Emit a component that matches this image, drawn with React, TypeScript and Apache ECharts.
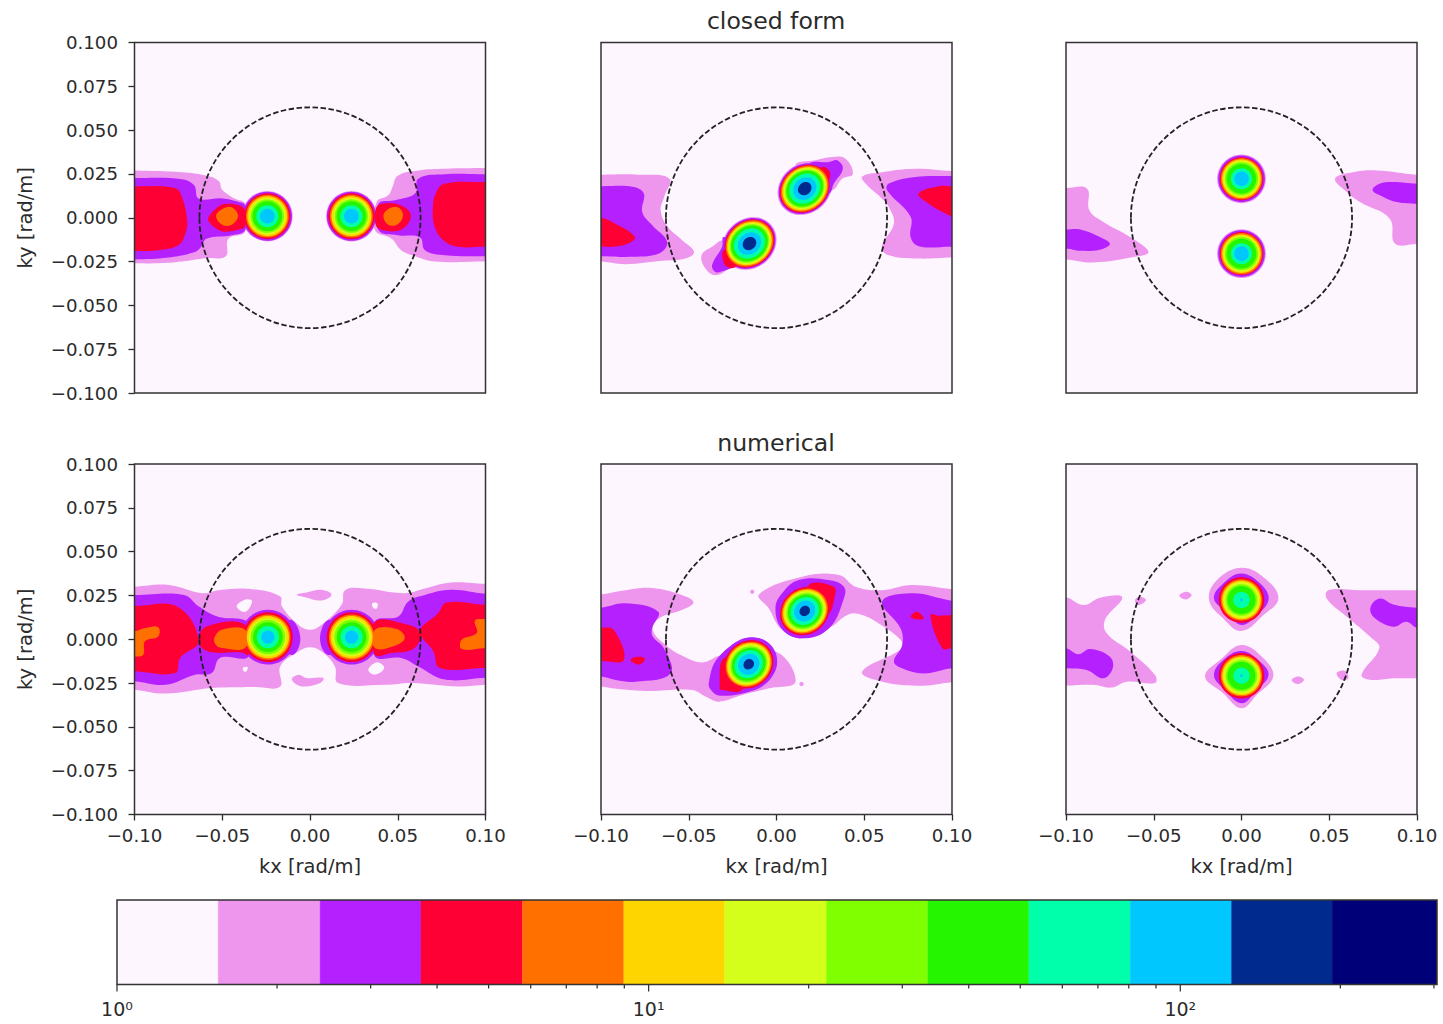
import React, { useEffect, useRef } from "react";
import * as echarts from "echarts";

// All contour coordinates are in milli-rad/m.
type Pt = [number, number];
type Region = [number, Pt[]];
type Blob = { c: Pt; tilt: number; stretch: number; radii: number[] };

const levelValues = [1, 1.55, 2.41, 3.73, 5.79, 8.98, 13.9, 21.6, 33.5, 51.9, 80.5, 124.8, 193, 304];
const levelColors = ["#fef6fe", "#ee95ee", "#b520ff", "#ff0035", "#ff7000", "#ffd500", "#d4ff1a", "#80ff00", "#26f500", "#00ffaa", "#00c8ff", "#002a8e", "#000078"];
const minorTicks = [2, 3, 4, 5, 6, 7, 8, 9, 20, 30, 40, 50, 60, 70, 80, 90, 200, 300];
const majorTicks = [1, 10, 100];
const circleRadius = 63;
const titles = ["closed form", "numerical"];

const closedA: Region[] = [
  [1, [[-100, 27], [-73, 26], [-59, 24], [-52, 21], [-50, 16], [-43, 11], [-37, 8], [-37, -8], [-46.5, -12], [-48, -22], [-59, -23], [-73, -25], [-86.5, -26], [-100, -26]]],
  [1, [[100, 28.4], [77, 28], [61.7, 27], [50, 24], [47, 17.6], [44.6, 12.8], [38, 9], [37, -7], [46.5, -12], [52, -18.5], [60, -22], [71, -25], [100, -25]]],
  [2, [[-100, 22.7], [-73, 22], [-66, 18.5], [-63.5, 11], [-50, 11], [-40.5, 9], [-37, 7], [-37, -7], [-44.6, -10], [-59, -12], [-62, -16.6], [-65.5, -19.5], [-80.7, -22.7], [-100, -23.8]]],
  [2, [[100, 24.8], [77, 24.8], [61.7, 22.3], [60, 14], [48.4, 10], [39, 8], [39, -7], [50, -10], [62.7, -11.3], [65.5, -18.5], [77, -21.4], [100, -22]]],
  [3, [[-100, 18], [-77, 17], [-73, 12], [-70, -1.4], [-71, -9], [-75, -15.7], [-86.5, -18.5], [-100, -19]]],
  [3, [[-58, 0], [-52, 6.5], [-48, 8], [-40, 7], [-37, 4], [-37, -5], [-40, -6.5], [-48, -8], [-52, -7], [-57, -3]]],
  [3, [[100, 20.4], [77, 19.5], [72, 14.7], [70, 6], [71, -5], [76, -12.8], [84.5, -16.6], [100, -16.6]]],
  [3, [[57.5, 1], [52, 7], [41, 8], [37.4, 5], [37.4, -4], [41, -7], [52, -6.7]]],
  [4, [[-53.5, 1], [-50, 5], [-44.6, 6], [-41, 1], [-44.6, -4], [-50, -4]]],
  [4, [[41.8, 1], [44.6, 5], [50, 6], [53, 1.4], [50, -3.7], [44.6, -4]]],
];
const closedARadii = [14.4, 14, 13.1, 12.2, 11.4, 10.4, 9.5, 8.5, 6.3, 4.2];
const closedABlobs: Blob[] = [
  { c: [-24.3, 0.9], tilt: 0, stretch: 1, radii: closedARadii },
  { c: [23.6, 0.9], tilt: 0, stretch: 1, radii: closedARadii },
];

const closedB: Region[] = [
  [1, [[-100, 24.6], [-78.5, 24.6], [-61, 22.3], [-64, 11.9], [-66, 4.3], [-62, -5.2], [-53.7, -12.8], [-47, -19.5], [-52, -23.3], [-65, -24.6], [-86, -26.5], [-100, -25]]],
  [1, [[100, 26.7], [79, 28], [60, 26], [48.8, 23.6], [50.7, 19.5], [60, 11], [64, 6.2], [66.9, -3.3], [60, -16.6], [64, -21.4], [81, -23.3], [100, -22.7]]],
  [1, [[10.8, 30], [22, 32.8], [31.7, 34.7], [39.3, 33.7], [43.5, 25], [37.4, 22.3], [31.7, 15.7], [20, 16.6]]],
  [1, [[-42.7, -21.4], [-36.7, -16.6], [-30, -12.8], [-13.9, -18.5], [-27, -29], [-34.8, -32.8], [-40.5, -29]]],
  [2, [[-100, 18], [-81.5, 17.6], [-75.6, 13.8], [-76.5, 3.3], [-70.8, -4.3], [-62.3, -13.8], [-67, -20.4], [-84, -22.3], [-100, -22]]],
  [2, [[100, 23.8], [79, 23.3], [64, 19.5], [63, 15.7], [76.4, 0.5], [76.4, -11], [81, -16.2], [100, -16.6]]],
  [2, [[18.4, 30.5], [29.8, 31.8], [34.6, 32.8], [37.8, 28], [32.7, 19.5], [29.8, 13.8], [18.4, 16.6]]],
  [2, [[-36.7, -27], [-31, -16.6], [-30, -11], [-13.9, -20.4], [-23.4, -27.6], [-30, -30.3], [-34.8, -30.9]]],
  [3, [[-100, 0], [-92, -3.3], [-80.7, -11], [-84.6, -14.7], [-93.6, -16.6], [-100, -16.2]]],
  [3, [[100, 18], [92.5, 18], [81, 13.8], [86.8, 8], [96.3, 2.4], [100, 0.9]]],
  [3, [[26, 29], [30.4, 26], [28.9, 20.4], [20.3, 21.4]]],
  [3, [[-30, -26], [-30, -18.5], [-19.6, -20.4], [-23.4, -28], [-27, -28.5]]],
];
const closedBRadii = [15.2, 14.6, 13.9, 13.3, 12.5, 11.8, 11, 10.3, 8.7, 6.5, 3.8];
const closedBBlobs: Blob[] = [
  { c: [16.1, 16.6], tilt: 40, stretch: 1.08, radii: closedBRadii },
  { c: [-15.4, -14.7], tilt: 40, stretch: 1.08, radii: closedBRadii },
];

const closedC: Region[] = [
  [1, [[-100, 17], [-88, 16.6], [-86.7, 4.3], [-78.7, -2.4], [-63.5, -11], [-53, -19.5], [-60.7, -22.3], [-84.5, -25.5], [-100, -23.8]]],
  [1, [[100, 24.6], [77, 27], [63.7, 26], [53.3, 22.3], [60, 14.7], [67.5, 9], [84.5, -0.5], [87.4, -14.7], [100, -15]]],
  [2, [[-100, -6.7], [-92, -6.7], [-80.7, -11], [-75, -15], [-80.7, -18.2], [-92, -18.9], [-100, -17.6]]],
  [2, [[100, 19.5], [86.5, 20.4], [79, 19.5], [74.7, 15.7], [80.8, 11.9], [88.4, 9], [100, 8]]],
];
const closedCRadii = [13.9, 13.3, 12.3, 11.8, 11, 10.3, 9.5, 8.5, 6, 4.2];
const closedCBlobs: Blob[] = [
  { c: [0, 22.2], tilt: 0, stretch: 1, radii: closedCRadii },
  { c: [0, -20.5], tilt: 0, stretch: 1, radii: closedCRadii },
];

const numericA: Region[] = [
  [1, [[-100, 30], [-80.5, 31], [-61.5, 26.3], [-52, 28], [-33, 28.6], [-17, 24.4], [-16, 18.7], [-6.6, 8.3], [0, 5.4], [6.6, 8.3], [18, 19.7], [20, 28], [31, 29], [54, 26.3], [65.5, 29], [80.5, 32.4], [100, 31.6], [100, -26], [84.6, -27], [58, -25], [43, -26], [16, -25], [14.2, -15.5], [6.6, -7], [0, -4.5], [-6.6, -7], [-17, -15.5], [-17, -27], [-31.4, -27.3], [-56, -27.8], [-82.5, -31], [-100, -28.8]]],
  [0, [[-41.8, 18.8], [-37, 22.6], [-33, 21.7], [-37, 15.6]]],
  [0, [[-38, -16], [-35.5, -16], [-36.5, -18.5], [-38, -18]]],
  [0, [[35.5, 20.6], [38.4, 20.6], [38, 17.5], [36, 18]]],
  [0, [[33.2, -17.4], [38, -13.2], [42.3, -16.4], [37, -20.2]]],
  [1, [[-7.6, 25.4], [-1.9, 26.7], [6.6, 28.2], [12.3, 25.4], [6.6, 22.1], [-2.8, 24]]],
  [1, [[-10.4, -23], [-6.6, -20.2], [-1.9, -22.1], [7.6, -22.1], [5.7, -25], [-4.7, -26.9]]],
  [2, [[-100, 25.3], [-71.8, 25.3], [-63.3, 18.7], [-52.8, 13], [-35, 9.2], [-35, -9.8], [-51.3, -10.7], [-56, -19.3], [-65.5, -20.2], [-82.5, -26], [-100, -24]]],
  [2, [[100, 25.9], [80.5, 28.2], [65.5, 25.3], [56, 21.6], [50.3, 13], [37, 10.2], [37, -9.8], [52, -10.7], [61.7, -15.5], [76.9, -23], [100, -22]]],
  [2, [[-10.4, 11], [-5.5, 0.7], [-9.5, -8.8], [-16, -4], [-16, 5.4]]],
  [2, [[10.4, 11], [5.7, 0.7], [10, -8.8], [18, -4], [18, 5.4]]],
  [3, [[-100, 19], [-75, 18.3], [-63.6, -1.2], [-74, -10.7], [-76.9, -19.3], [-100, -18.3]]],
  [3, [[-63.6, -1.2], [-59, 7.3], [-37, 8.3], [-35, -8.8], [-39, -7.5], [-58, -7]]],
  [3, [[100, 19.7], [77.9, 21], [73, 14.9], [62.7, 4.5], [70.3, -7], [74, -16.4], [100, -16.4]]],
  [3, [[62.7, 4.5], [56, 8.3], [37, 10], [37, -8.8], [46.5, -7.9], [58, -6], [62.7, -0.3]]],
  [4, [[-54.5, 0.7], [-50.3, 5.4], [-37, 5.4], [-37, -5], [-50.3, -5], [-53.8, -3]]],
  [4, [[54, 0.7], [49.4, 5.8], [37, 5.4], [37, -5], [48.4, -3.7]]],
  [4, [[-100, 4.5], [-94, 6.4], [-86.5, 6.9], [-86.5, 1.6], [-94, -1.2], [-95, -8.8], [-100, -9.8]]],
  [4, [[100, 11.5], [94, 10.7], [95, 3.5], [86.4, -0.3], [86.4, -5.6], [100, -5]]],
];
const numericARadii = [16, 15.6, 14.2, 12.9, 12, 10.8, 9.9, 8.5, 6.3, 3.8];
const numericABlobs: Blob[] = [
  { c: [-24, 1.2], tilt: 0, stretch: 1, radii: numericARadii },
  { c: [23.7, 1.2], tilt: 0, stretch: 1, radii: numericARadii },
];

const numericB: Region[] = [
  [1, [[-100, 25.7], [-86, 28], [-71, 29.2], [-54, 25.2], [-47.3, 21], [-54, 16.7], [-67, 11.9], [-70.5, 5.3], [-63, -3.4], [-54.5, -9], [-42.4, -13.2], [-31, -9], [-0.6, -7], [10.8, -24.2], [-4.3, -28], [-19.5, -31.8], [-32.9, -35.6], [-40.5, -32.7], [-48, -29], [-74.6, -29.5], [-93.7, -28], [-100, -27]]],
  [1, [[100, 28.6], [77.2, 30.9], [60.2, 28], [45, 30], [35.6, 36.6], [14.6, 35.7], [-10, 25.6], [-4.4, 17.6], [3.2, 5.3], [14.6, 1.5], [29.8, 6.2], [41.2, 14.2], [48.8, 13.8], [58.3, 9], [70.7, -0.4], [71.6, -5.2], [48.8, -18.5], [60.2, -24.2], [83, -26.5], [100, -24.6]]],
  [1, [[-15, 27.1], [-13.9, 28.4], [-12.6, 27.1], [-13.9, 25.8]]],
  [1, [[13, -25.5], [14.2, -24.2], [15.6, -25.5], [14.2, -26.8]]],
  [2, [[-100, 18], [-86.3, 20.5], [-67.4, 15.7], [-70.9, 6.2], [-70.5, 1.5], [-64.2, -5.2], [-60.4, -19.5], [-80.3, -24.2], [-91.7, -23.2], [-100, -21.3]]],
  [2, [[100, 22], [77.2, 26.2], [60.2, 21.4], [70.7, 6.2], [71.6, -3.3], [66.9, -12.7], [71.6, -16.6], [83.9, -19.5], [100, -16.6]]],
  [2, [[12.7, 33.8], [29.8, 33.8], [38.4, 30], [38.4, 23.3], [29.8, 6.2], [14.6, 0.5], [3.2, 6.2], [-0.6, 17.6], [3.2, 26.2]]],
  [2, [[-38.6, -25], [-32.9, -10], [-15.8, 0.5], [-4.4, -2.3], [0.4, -12.8], [-4.4, -23.2], [-15.8, -29.9], [-31.7, -32.2], [-36.5, -29.9]]],
  [3, [[-100, 6.6], [-92.7, 5.3], [-87, -11.8], [-100, -12.4]]],
  [3, [[-83.2, -11.8], [-79.3, -10], [-75, -10.9], [-77.5, -14.3], [-81.3, -13.5]]],
  [3, [[100, 13.8], [92.5, 13.4], [87.7, 13.8], [94.4, -5.2], [100, -5.2]]],
  [3, [[76.4, 12.9], [80, 15.7], [83.9, 11.9], [80, 11.4]]],
  [3, [[18.4, 31], [32.7, 30], [33.2, 24.3], [28.9, 13.8], [18.4, 15.7]]],
  [3, [[-32.4, -28], [-30, -10.9], [-15.8, -14.3], [-19.6, -29], [-31, -29]]],
];
const numericBRadii = [0, 15.6, 13.9, 13, 12.2, 11.4, 10.4, 9.5, 8, 6, 3];
const numericBBlobs: Blob[] = [
  { c: [16.1, 16.1], tilt: 40, stretch: 1.06, radii: numericBRadii },
  { c: [-15.8, -14.3], tilt: 40, stretch: 1.06, radii: numericBRadii },
];

const numericC: Region[] = [
  [1, [[-100, 23.9], [-90, 19.5], [-80.6, 23.7], [-68, 23.9], [-77.8, 11], [-76.8, 3.4], [-63.5, -7], [-49.3, -20.4], [-49.3, -25], [-65.5, -24.2], [-74, -27.6], [-84.5, -26], [-100, -26.4]]],
  [1, [[100, 28], [67.5, 28], [49.5, 28], [48.5, 23.3], [60, 12.9], [73.2, 1.5], [78.5, -5.2], [68.4, -20.4], [74, -23.2], [86.5, -22.3], [100, -22.3]]],
  [1, [[-35.4, 24.8], [-31.6, 27.1], [-28.4, 25.2], [-31.6, 22.7]]],
  [1, [[-60.7, 22.4], [-57.8, 24.3], [-54.4, 22.4], [-58.8, 19.5]]],
  [1, [[28.6, -23.2], [32.4, -21.2], [35.6, -23.2], [31.8, -25.5]]],
  [1, [[54.2, -19.4], [59, -18.1], [60.9, -22.3], [57.1, -23.2]]],
  [1, [[0, 40.8], [13.4, 34.7], [21, 23.3], [12.5, 13.8], [0, 4.7], [-10.4, 11.9], [-18.5, 22.4], [-14.1, 33.7]]],
  [1, [[0, -3.3], [12.5, -10.9], [18.1, -21.3], [8.6, -31.8], [0, -39.4], [-10.4, -30.8], [-20.8, -21.3], [-12.2, -11.9]]],
  [2, [[-100, -5.2], [-93, -8.6], [-86.3, -5.6], [-75, -10], [-73.4, -16.6], [-78.7, -22.3], [-88.2, -17.5], [-100, -16.6]]],
  [2, [[100, 18], [86.5, 19.9], [78.9, 23.3], [73.6, 18.6], [75.1, 12.9], [86.5, 7.2], [94, 10], [100, 6.6]]],
  [2, [[0, 37.5], [11.6, 30.9], [15.4, 22.4], [8.7, 13.8], [0, 8.1], [-8.5, 15.7], [-15.7, 23.3], [-10.4, 31.8]]],
  [2, [[0, -6.7], [10.6, -12.8], [15.4, -20.4], [8.7, -28.9], [0, -36.5], [-10.4, -28], [-15.7, -20.4], [-10.4, -11.9]]],
];
const numericCRadii = [0, 0, 13, 11.8, 11, 10.3, 9, 8, 4.7, 0.8];
const numericCBlobs: Blob[] = [
  { c: [0, 22.4], tilt: 0, stretch: 1, radii: numericCRadii },
  { c: [0, -20.8], tilt: 0, stretch: 1, radii: numericCRadii },
];

const panels = [
  { regions: closedA, blobs: closedABlobs },
  { regions: closedB, blobs: closedBBlobs },
  { regions: closedC, blobs: closedCBlobs },
  { regions: numericA, blobs: numericABlobs },
  { regions: numericB, blobs: numericBBlobs },
  { regions: numericC, blobs: numericCBlobs },
];

const AXIS_MIN = -0.1;
const AXIS_MAX = 0.1;
const FONT = "DejaVu Sans";
const INK = "#2b2b2b";
const LEFTS = [134.5, 601, 1066];
const TOPS = [42.5, 464];
const SIZE = 351;

const signed = (v: number, digits: number) =>
  (Math.abs(v) < 1e-9 ? 0 : v).toFixed(digits).replace("-", "\u2212");

// A point on the panel edge gets a twin beyond the edge, so that the band leaves the panel level
// and the smoothing of the outline happens outside the clip.
function beyondEdges(pts: Pt[]): Pt[] {
  const out: Pt[] = [];
  pts.forEach((p, i) => {
    const prev = pts[(i - 1 + pts.length) % pts.length];
    if (Math.abs(p[0]) >= 100) {
      const twin: Pt = [p[0] * 1.1, p[1]];
      if (Math.abs(prev[0]) >= 100) out.push(twin, p);
      else out.push(p, twin);
    } else out.push(p);
  });
  return out;
}

// level 0 pieces are holes in the level 1 band
const drawRank = (level: number) => (level === 0 ? 1.5 : level);

function buildOption() {
  const grid: any[] = [];
  const xAxis: any[] = [];
  const yAxis: any[] = [];
  const series: any[] = [];

  panels.forEach((panel, i) => {
    const col = i % 3;
    const row = i < 3 ? 0 : 1;
    grid.push({
      left: LEFTS[col], top: TOPS[row], width: SIZE, height: SIZE - 0.5,
      show: true, backgroundColor: levelColors[0], borderWidth: 0,
    });
    const bottomRow = row === 1;
    xAxis.push({
      gridIndex: i, type: "value", min: AXIS_MIN, max: AXIS_MAX, interval: 0.05,
      splitLine: { show: false }, axisLine: { show: false, onZero: false },
      axisTick: { show: bottomRow, length: 6, lineStyle: { color: INK, width: 1.3 } },
      axisLabel: {
        show: bottomRow, margin: 12, fontSize: 18.2, fontFamily: FONT, color: INK,
        hideOverlap: false, formatter: (v: number) => signed(v, 2),
      },
      name: bottomRow ? "kx [rad/m]" : "", nameLocation: "middle", nameGap: 42,
      nameTextStyle: { fontSize: 19.5, fontFamily: FONT, color: INK },
    });
    const leftCol = col === 0;
    yAxis.push({
      gridIndex: i, type: "value", min: AXIS_MIN, max: AXIS_MAX, interval: 0.025,
      splitLine: { show: false }, axisLine: { show: false, onZero: false },
      axisTick: { show: leftCol, length: 6, lineStyle: { color: INK, width: 1.3 } },
      axisLabel: {
        show: leftCol, margin: 16.5, fontSize: 18.2, fontFamily: FONT, color: INK,
        hideOverlap: false, formatter: (v: number) => signed(v, 3),
      },
      name: leftCol ? "ky [rad/m]" : "", nameLocation: "middle", nameGap: 99, nameRotate: 90,
      nameTextStyle: { fontSize: 19.5, fontFamily: FONT, color: INK },
    });

    // filled contour bands, painted from the lowest level to the highest
    const items: any[] = [];
    panel.regions.forEach(([level, pts]) => items.push({ level, pts: beyondEdges(pts) }));
    panel.blobs.forEach((b) => {
      b.radii.forEach((r, k) => {
        if (r > 0) items.push({ level: k + 1, blob: b, r });
      });
    });
    items.sort((a, b) => drawRank(a.level) - drawRank(b.level));
    series.push({
      type: "custom", xAxisIndex: i, yAxisIndex: i, clip: true, silent: true,
      data: items.map(() => [0, 0]),
      renderItem: (params: any, api: any) => {
        const it = items[params.dataIndex];
        const fill = levelColors[it.level];
        if (it.pts) {
          return {
            type: "polygon",
            shape: {
              points: it.pts.map((p: Pt) => api.coord([p[0] / 1000, p[1] / 1000])),
              smooth: 0.4,
            },
            style: { fill },
          };
        }
        const c = api.coord([it.blob.c[0] / 1000, it.blob.c[1] / 1000]);
        const s = api.size([it.r / 1000, it.r / 1000]);
        return {
          type: "ellipse",
          x: c[0], y: c[1],
          rotation: (it.blob.tilt * Math.PI) / 180,
          shape: { cx: 0, cy: 0, rx: s[0] * it.blob.stretch, ry: s[1] / it.blob.stretch },
          style: { fill },
        };
      },
    });

    // dashed circle and the frame of the panel
    series.push({
      type: "custom", xAxisIndex: i, yAxisIndex: i, clip: false, silent: true, z: 5,
      data: [[0, 0], [0, 0]],
      renderItem: (params: any, api: any) => {
        if (params.dataIndex === 0) {
          const c = api.coord([0, 0]);
          const s = api.size([circleRadius / 1000, circleRadius / 1000]);
          return {
            type: "ellipse",
            shape: { cx: c[0], cy: c[1], rx: s[0], ry: s[1] },
            style: { fill: "none", stroke: "#222", lineWidth: 1.8, lineDash: [5.5, 2.5] },
          };
        }
        const a = api.coord([AXIS_MIN, AXIS_MAX]);
        const b = api.coord([AXIS_MAX, AXIS_MIN]);
        return {
          type: "rect",
          shape: { x: a[0], y: a[1], width: b[0] - a[0], height: b[1] - a[1] },
          style: { fill: "none", stroke: "#333", lineWidth: 1.5 },
        };
      },
    });
  });

  // colour bar
  const cb = panels.length;
  grid.push({ left: 117, top: 900, width: 1320, height: 84.5, show: false });
  xAxis.push({
    gridIndex: cb, type: "log", logBase: 10, min: 1, max: levelValues[levelValues.length - 1],
    splitLine: { show: false }, axisLine: { show: false, onZero: false }, axisTick: { show: false },
    minorTick: { show: false },
    axisLabel: {
      margin: 15, fontSize: 19, fontFamily: FONT, color: INK, showMaxLabel: false,
      hideOverlap: false,
      formatter: (v: number) => "10" + "\u2070\u00b9\u00b2"[Math.round(Math.log10(v))],
    },
  });
  yAxis.push({ gridIndex: cb, type: "value", min: 0, max: 1, show: false });
  series.push({
    type: "custom", xAxisIndex: cb, yAxisIndex: cb, clip: true, silent: true,
    data: levelColors.map((_, i) => [levelValues[i], 0]),
    renderItem: (params: any, api: any) => {
      const i = params.dataIndex;
      const a = api.coord([levelValues[i], 1]);
      const b = api.coord([levelValues[i + 1], 0]);
      return {
        type: "rect",
        shape: { x: a[0], y: a[1], width: b[0] - a[0], height: b[1] - a[1] },
        style: { fill: levelColors[i], stroke: levelColors[i], lineWidth: 0.3 },
      };
    },
  });
  const tickList = [
    ...majorTicks.map((v) => [v, 7]),
    ...minorTicks.map((v) => [v, 4]),
  ];
  series.push({
    type: "custom", xAxisIndex: cb, yAxisIndex: cb, clip: false, silent: true, z: 5,
    data: [...tickList.map((t) => [t[0], 0]), [1, 0]],
    renderItem: (params: any, api: any) => {
      const i = params.dataIndex;
      if (i === tickList.length) {
        const a = api.coord([1, 1]);
        const b = api.coord([levelValues[levelValues.length - 1], 0]);
        return {
          type: "rect",
          shape: { x: a[0], y: a[1], width: b[0] - a[0], height: b[1] - a[1] },
          style: { fill: "none", stroke: "#333", lineWidth: 1.5 },
        };
      }
      const p = api.coord([tickList[i][0], 0]);
      return {
        type: "line",
        shape: { x1: p[0], y1: p[1], x2: p[0], y2: p[1] + tickList[i][1] },
        style: { stroke: INK, lineWidth: 1.2 },
      };
    },
  });

  const title = titles.map((text, i) => ({
    text, left: 771, top: i === 0 ? 4 : 426, textAlign: "center",
    textStyle: { fontSize: 23.6, fontWeight: "normal", fontFamily: FONT, color: INK },
  }));

  return { animation: false, backgroundColor: "#fff", title, grid, xAxis, yAxis, series };
}

export default function App() {
  const ref = useRef<HTMLDivElement>(null);
  useEffect(() => {
    const chart = echarts.init(ref.current!, undefined, { renderer: "svg" });
    chart.setOption(buildOption() as any);
    return () => chart.dispose();
  }, []);
  return <div ref={ref} style={{ position: "fixed", left: 0, top: 0, width: 1443, height: 1024 }} />;
}
